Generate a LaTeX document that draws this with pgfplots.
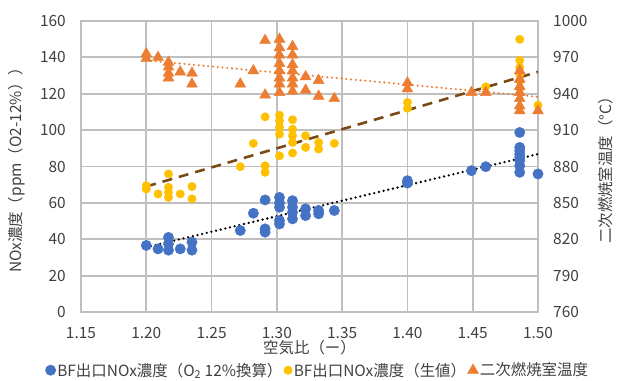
\documentclass[border=0pt]{standalone}
\usepackage{fontspec}
\setmainfont{Noto Sans CJK JP}
\usepackage{pgfplots}
\usepackage{pgfplotstable}
\pgfplotsset{compat=1.18}
\definecolor{cblue}{HTML}{4472C4}
\definecolor{cyellow}{HTML}{FFC000}
\definecolor{corange}{HTML}{ED7D31}
\definecolor{cbrown}{HTML}{7B4A12}
\definecolor{gridgray}{HTML}{BFBFBF}
\definecolor{txt}{HTML}{404040}

\pgfplotstableread{
x y
1.200 36.6
1.209 34.7
1.217 41.0
1.217 37.5
1.217 34.0
1.226 34.7
1.235 38.4
1.235 34.0
1.272 44.8
1.282 54.3
1.291 61.6
1.291 45.7
1.291 43.9
1.302 63.0
1.302 60.0
1.302 57.6
1.302 50.3
1.302 48.4
1.312 61.2
1.312 57.6
1.312 54.8
1.312 51.2
1.322 56.7
1.322 53.0
1.332 55.8
1.332 54.0
1.344 55.8
1.400 70.9
1.400 72.2
1.449 77.7
1.460 79.9
1.486 98.7
1.486 90.5
1.486 88.7
1.486 86.8
1.486 85.0
1.486 83.2
1.486 80.4
1.486 76.8
1.500 75.9
}\blueT

\pgfplotstableread{
x y
1.200 69.5
1.200 67.6
1.209 64.9
1.217 75.9
1.217 68.6
1.217 65.8
1.217 63.0
1.226 64.9
1.235 69.0
1.235 62.2
1.272 79.9
1.282 92.7
1.291 107.3
1.291 80.4
1.291 76.8
1.302 108.2
1.302 105.1
1.302 101.5
1.302 97.8
1.302 85.9
1.312 105.7
1.312 100.5
1.312 96.9
1.312 93.2
1.312 87.4
1.322 96.9
1.322 90.5
1.332 93.2
1.332 89.6
1.344 92.7
1.400 115.2
1.400 112.0
1.460 123.8
1.486 149.9
1.486 138.4
1.486 134.4
1.486 130.7
1.486 127.0
1.486 123.0
1.500 113.7
}\yellowT

\pgfplotstableread{
x y
1.200 973
1.200 969
1.209 970
1.217 966
1.217 962
1.217 957
1.217 953
1.226 958
1.235 957
1.235 948
1.272 948
1.282 959
1.291 984
1.291 939
1.302 985
1.302 978
1.302 972
1.302 965
1.302 959
1.302 953
1.302 948
1.302 941
1.312 979
1.312 972
1.312 964
1.312 959
1.312 953
1.312 948
1.312 942
1.322 954
1.322 943
1.332 951
1.332 938
1.344 936
1.400 949
1.400 944
1.449 941
1.460 941
1.486 959
1.486 952
1.486 946
1.486 941
1.486 936
1.486 930
1.486 926
1.500 926
}\tempT

\begin{document}
\begin{tikzpicture}
\useasboundingbox (-81bp,-69bp) rectangle (538bp,312bp);
\pgfplotsset{
  common/.style={
    scale only axis, width=457bp, height=291bp,
    at={(0,0)}, anchor=south west,
    xmin=1.15, xmax=1.50,
    font=\fontsize{15.5}{18}\selectfont, color=txt,
    major tick length=0pt,
    /pgf/number format/assume math mode=true,
    /pgf/number format/set thousands separator={},
    tick label style={color=txt},
  }
}
\begin{axis}[common,
  ymin=0, ymax=160, ytick={0,20,...,160},
  xtick={1.15,1.20,1.25,1.30,1.35,1.40,1.45,1.50},
  xticklabels={1.15,1.20,1.25,1.30,1.35,1.40,1.45,1.50},
  grid=major, major grid style={line width=1.8pt, color=gridgray},
  axis line style={line width=1.8pt, color=gridgray},
  xticklabel style={anchor=center, inner sep=0pt, yshift=-21bp},
  yticklabel style={anchor=east, inner sep=0pt, xshift=-15bp},
  xlabel={空気比（ー）},
  xlabel style={at={(axis description cs:0.5,-0.124)}, anchor=center, inner sep=0pt},
  ylabel={NOx濃度（ppm（O2-12\%））},
  ylabel style={at={(axis description cs:-0.140,0.5)}, anchor=center, rotate=0, inner sep=0pt},
  legend style={draw=none, fill=none, at={(0.5175,-0.200)}, anchor=center,
    legend columns=3, inner sep=0pt, font=\fontsize{15.5}{18}\selectfont,
    /tikz/every even column/.append style={column sep=0pt},
    nodes={inner sep=1.5pt, text=txt}},
  legend image code/.code={\draw[#1] plot coordinates {(0.2cm,0cm)};},
]
\addplot[only marks, mark=*, mark size=5.2bp, color=cblue] table {\blueT};
\addlegendentry{BF出口NOx濃度（O\textsubscript{2} 12\%換算）}
\addplot[only marks, mark=*, mark size=4.2bp, color=cyellow] table {\yellowT};
\addlegendentry{BF出口NOx濃度（生値）}
\addplot[forget plot, black, line width=2.6pt, dash pattern=on 0pt off 4.8pt, line cap=round] coordinates {(1.20,35.6) (1.50,86.8)};
\addplot[forget plot, cbrown, line width=2.6pt, dash pattern=on 10pt off 7pt] coordinates {(1.20,69) (1.50,132)};
\addlegendimage{only marks, mark=triangle*, mark size=6.3bp, color=corange}
\addlegendentry{二次燃焼室温度}
\end{axis}
\begin{axis}[common,
  ymin=760, ymax=1000, ytick={760,790,...,1000},
  axis x line=none, axis y line*=right,
  axis line style={draw=none},
  yticklabel style={anchor=west, inner sep=0pt, xshift=15bp},
  ylabel={二次燃焼室温度（°C）},
  ylabel style={at={(axis description cs:1.149,0.5)}, anchor=center, rotate=0, inner sep=0pt},
]
\addplot[only marks, mark=triangle*, mark size=6.3bp, color=corange] table {\tempT};
\addplot[corange, line width=2.3pt, dash pattern=on 0pt off 4.8pt, line cap=round] coordinates {(1.20,967.5) (1.50,937.5)};
\end{axis}
\end{tikzpicture}
\end{document}
